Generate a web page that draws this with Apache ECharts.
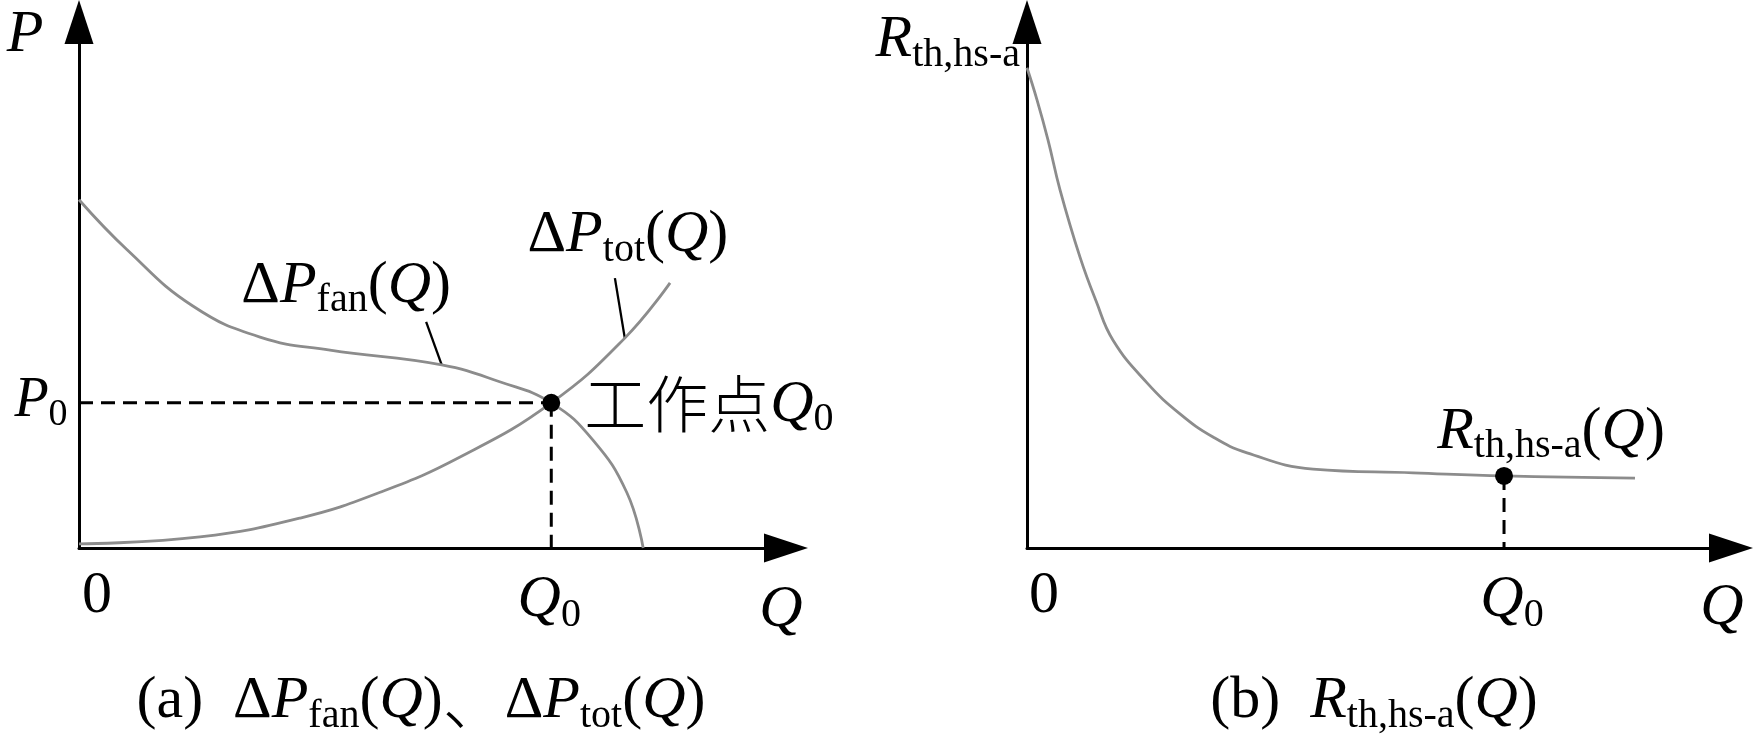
<!DOCTYPE html>
<html><head><meta charset="utf-8">
<script src="https://cdn.jsdelivr.net/npm/echarts@6/dist/echarts.min.js"></script>
<style>html,body{margin:0;padding:0;background:#fff}#c{width:1756px;height:754px}</style>
</head><body><div id="c"></div>
<script>
// ---------- data (axis units 0..100) ----------
const fanQ = [0, 6.8, 16.1, 25.6, 35.5, 51.3, 59.5, 66.8, 72.7, 77.5, 79.8];
const fanP = [66.2, 56.7, 46.0, 40.1, 37.6, 34.8, 31.6, 27.6, 20.5, 10.5, 0];
const totQ = [0, 17.1, 31.3, 42.6, 53.9, 66.8, 77.2, 83.6];
const totP = [0.8, 2.1, 5.7, 10.6, 17.3, 27.6, 39.9, 50.4];
const rthQ = [0, 1.42, 2.98, 4.69, 7.53, 9.80, 12.22, 17.05, 21.73, 26.42, 31.25, 40.63, 54.83, 67.76, 86.36];
const rthR = [91.3, 85.2, 77.6, 68.1, 55.3, 47.0, 39.5, 31.4, 25.5, 21.1, 18.1, 15.0, 14.3, 13.7, 13.3];
const opA = [66.8, 27.6];   // [Q0, P0]
const opB = [67.76, 13.7];  // [Q0, Rth(Q0)]
const fanLeader = [[49.1, 43.0], [51.3, 34.8]];
const totLeader = [[75.8, 51.3], [77.2, 39.9]];

// ---------- styles ----------
const GRAY = '#8c8c8c';
const SERIF = '"Liberation Serif","Times New Roman",serif';
const CJK = '"Noto Sans CJK SC","Noto Sans CJK JP",sans-serif';
const zip = (a, b) => a.map((v, i) => [v, b[i]]);

function axis(gridIndex) {
  return {
    type: 'value', min: 0, max: 100, gridIndex,
    axisLine: { show: true, onZero: false, symbol: ['none', 'triangle'], symbolSize: [29, 44],
      lineStyle: { color: '#000', width: 3 } },
    axisTick: { show: false }, axisLabel: { show: false }, splitLine: { show: false }
  };
}
const curve = (g, data) => ({ type: 'line', xAxisIndex: g, yAxisIndex: g, data, smooth: 0.45,
  symbol: 'none', lineStyle: { color: GRAY, width: 2.8 }, z: 3, silent: true });
const dashed = (g, data) => ({ type: 'line', xAxisIndex: g, yAxisIndex: g, data, symbol: 'none',
  lineStyle: { color: '#000', width: 3, type: [14, 8] }, z: 2, silent: true });
const solid = (g, data) => ({ type: 'line', xAxisIndex: g, yAxisIndex: g, data, symbol: 'none',
  lineStyle: { color: '#000', width: 2.3 }, z: 2, silent: true });
const dot = (g, p) => ({ type: 'scatter', xAxisIndex: g, yAxisIndex: g, data: [p], symbolSize: 18,
  itemStyle: { color: '#000', opacity: 1 }, z: 6, silent: true });

const chart = echarts.init(document.getElementById('c'));
chart.setOption({
  animation: false,
  backgroundColor: '#fff',
  grid: [
    { left: 79, top: 22, width: 707, height: 526, outerBoundsMode: 'none' },
    { left: 1027, top: 22, width: 704, height: 526, outerBoundsMode: 'none' }
  ],
  xAxis: [axis(0), axis(1)],
  yAxis: [axis(0), axis(1)],
  series: [
    dashed(0, [[0, opA[1]], opA]),
    dashed(0, [opA, [opA[0], 0]]),
    curve(0, zip(fanQ, fanP)),
    curve(0, zip(totQ, totP)),
    solid(0, fanLeader),
    solid(0, totLeader),
    dot(0, opA),
    dashed(1, [opB, [opB[0], 0]]),
    curve(1, zip(rthQ, rthR)),
    dot(1, opB)
  ]
});

// ---------- text ----------
function rich(M, S, p) {
  return {
    i: { fontFamily: SERIF, fontStyle: 'italic', fontSize: M, lineHeight: S + p, fill: '#000' },
    r: { fontFamily: SERIF, fontSize: M, lineHeight: S + p, fill: '#000' },
    s: { fontFamily: SERIF, fontSize: S, lineHeight: S, padding: [p, 0, 0, 0], fill: '#000' },
    c: { fontFamily: CJK, fontSize: M + 2, fontWeight: 300, lineHeight: S + p, fill: '#000' }
  };
}
const BIG = rich(60, 40, 30);
const MID = rich(56, 38, 28);

const labels = [
  { g: 0, at: [0, 100], d: [-54, 13], t: '{i|P}', al: 'center' },
  { g: 0, at: [0, opA[1]], d: [-38, -2], t: '{i|P}{s|0}', al: 'center', r: MID },
  { g: 0, at: [0, 0], d: [18, 48], t: '{r|0}', al: 'center' },
  { g: 0, at: [opA[0], 0], d: [-2, 52], t: '{i|Q}{s|0}', al: 'center' },
  { g: 0, at: [100, 0], d: [-5, 62], t: '{i|Q}', al: 'center' },
  { g: 0, at: fanLeader[0], d: [-80, -36], t: '{r|Δ}{i|P}{s|fan}{r|(}{i|Q}{r|)}', al: 'center' },
  { g: 0, at: totLeader[0], d: [13, -43], t: '{r|Δ}{i|P}{s|tot}{r|(}{i|Q}{r|)}', al: 'center' },
  { g: 0, at: opA, d: [33, 2], t: '{c|工作点}{i|Q}{s|0}', al: 'left' },
  { g: 1, at: [0, 100], d: [-7, 18], t: '{i|R}{s|th,hs-a}', al: 'right' },
  { g: 1, at: [0, 0], d: [17, 48], t: '{r|0}', al: 'center' },
  { g: 1, at: [opB[0], 0], d: [8, 52], t: '{i|Q}{s|0}', al: 'center' },
  { g: 1, at: [100, 0], d: [-9, 60], t: '{i|Q}', al: 'center' },
  { g: 1, at: opB, d: [47, -44], t: '{i|R}{s|th,hs-a}{r|(}{i|Q}{r|)}', al: 'center' }
];
const captions = [
  { x: 421, y: 701, t: '{r|(a)  Δ}{i|P}{s|fan}{r|(}{i|Q}{r|)}{c|、}{r|Δ}{i|P}{s|tot}{r|(}{i|Q}{r|)}' },
  { x: 1374, y: 701, t: '{r|(b)  }{i|R}{s|th,hs-a}{r|(}{i|Q}{r|)}' }
];

const graphic = [];
labels.forEach(L => {
  const p = chart.convertToPixel({ gridIndex: L.g }, L.at);
  graphic.push({ type: 'text', x: p[0] + L.d[0], y: p[1] + L.d[1], silent: true, z: 10,
    style: { text: L.t, rich: L.r || BIG, align: L.al, verticalAlign: 'middle' } });
});
captions.forEach(C => {
  graphic.push({ type: 'text', x: C.x, y: C.y, silent: true, z: 10,
    style: { text: C.t, rich: BIG, align: 'center', verticalAlign: 'middle' } });
});
chart.setOption({ graphic });
</script>
</body></html>
